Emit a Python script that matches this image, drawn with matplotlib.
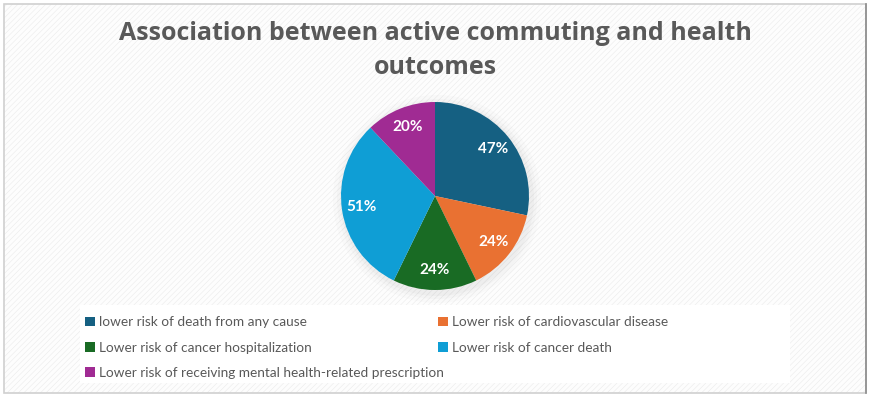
import numpy as np
import matplotlib.pyplot as plt
from matplotlib.patches import Rectangle, Circle

# Data
categories = [
    "lower risk of death from any cause",
    "Lower risk of cardiovascular disease",
    "Lower risk of cancer hospitalization",
    "Lower risk of cancer death",
    "Lower risk of receiving mental health-related prescription",
]
values = [47, 24, 24, 51, 20]
pct_labels = ["47%", "24%", "24%", "51%", "20%"]
colors = ["#156082", "#E97132", "#196B24", "#0F9ED5", "#A02B93"]

W, H = 871, 397
fig = plt.figure(figsize=(W / 100, H / 100), dpi=100)
fig.patch.set_facecolor("white")

# background panel with light diagonal pattern
bg = fig.add_axes([0, 0, 1, 1])
bg.set_xlim(0, W)
bg.set_ylim(H, 0)
bg.axis("off")
plt.rcParams["hatch.linewidth"] = 0.4
bg.add_patch(Rectangle((4, 4), 862, 389, facecolor="#FDFDFD", edgecolor="#EBEBEB",
                       hatch="//////", linewidth=0))
bg.add_patch(Rectangle((4, 4), 862, 389, facecolor="none", edgecolor="#D0D0D0", linewidth=1.2))
bg.plot([866, 866], [4, 393], color="#8C8C8C", lw=1.2)

cx, cy, r = 435, 196, 94
# soft shadow under the pie
for rr, a in [(104, 0.03), (100, 0.04), (97, 0.05)]:
    bg.add_patch(Circle((cx + 2, cy + 3), rr, facecolor="#808080", alpha=a, lw=0))
# legend background
bg.add_patch(Rectangle((80, 305), 710, 78, facecolor="white", edgecolor="none"))

title_kw = dict(ha="center", va="center", fontsize=18, fontweight="bold",
                color="#595959", family="Open Sans")
fig.text(0.5, 1 - 33 / H, "Association between active commuting and health", **title_kw)
fig.text(0.5, 1 - 67 / H, "outcomes", **title_kw)

# pie
ax = fig.add_axes([(cx - r) / W, (H - cy - r) / H, 2 * r / W, 2 * r / H])
wedges, texts = ax.pie(values, colors=colors, startangle=90, counterclock=False,
                       labels=pct_labels, labeldistance=0.79,
                       wedgeprops=dict(linewidth=0))
for t in texts:
    t.set_color("white")
    t.set_fontweight("bold")
    t.set_fontsize(11)
    t.set_family("Lato")
    t.set_ha("center")
    t.set_va("center")
ax.set_xlim(-1, 1)
ax.set_ylim(-1, 1)

# legend, row-major order
order = [0, 2, 4, 1, 3]
leg = fig.legend([wedges[i] for i in order], [categories[i] for i in order],
                 ncol=2, loc="upper left", bbox_to_anchor=(73 / W, 1 - 304 / H),
                 frameon=False, handlelength=0.7, handleheight=0.7, handletextpad=0.3,
                 columnspacing=-0.4, labelspacing=0.98,
                 prop={"family": "Lato", "size": 9.8}, labelcolor="#595959")

fig.savefig("out.png", dpi=100)
